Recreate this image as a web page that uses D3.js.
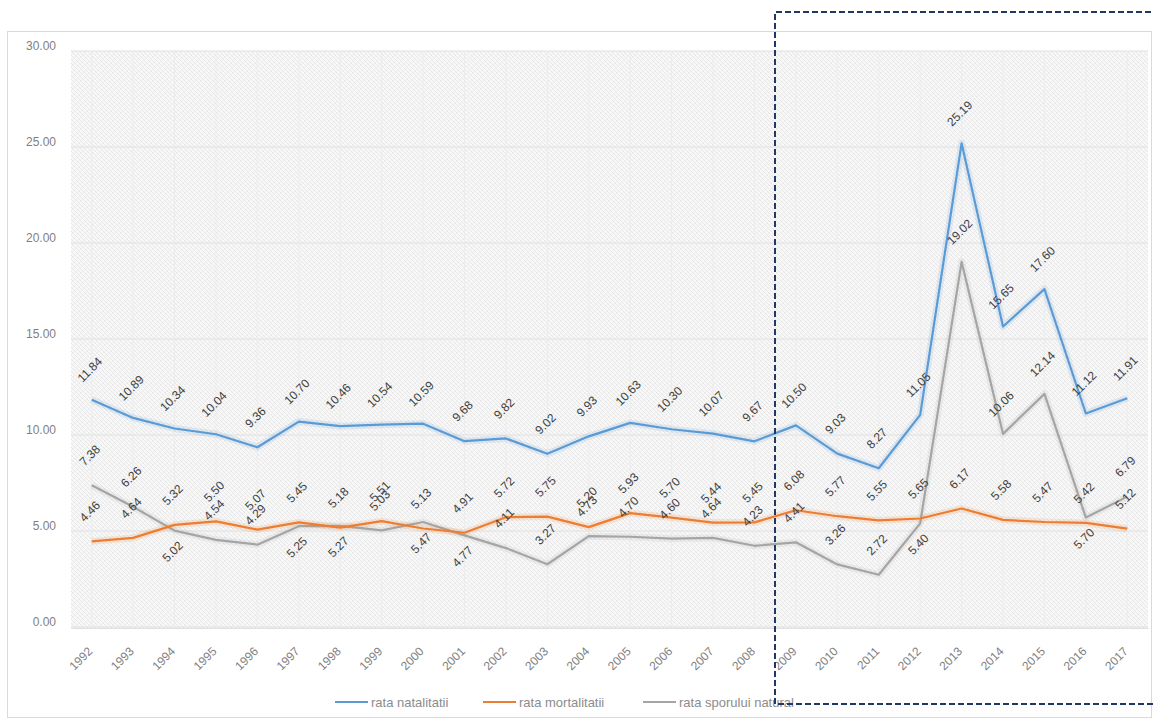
<!DOCTYPE html>
<html><head><meta charset="utf-8">
<script src="https://cdn.jsdelivr.net/npm/d3@7"></script>
<style>body{margin:0;background:#fff;}svg{display:block;font-family:"Liberation Sans",Arial,sans-serif;}</style>
</head><body>
<svg id="c" width="1154" height="721"></svg>
<script>
const years = ["1992","1993","1994","1995","1996","1997","1998","1999","2000","2001","2002","2003","2004","2005","2006","2007","2008","2009","2010","2011","2012","2013","2014","2015","2016","2017"];
const natalitatii = [11.84,10.89,10.34,10.04,9.36,10.70,10.46,10.54,10.59,9.68,9.82,9.02,9.93,10.63,10.30,10.07,9.67,10.50,9.03,8.27,11.05,25.19,15.65,17.60,11.12,11.91];
const mortalitatii = [4.46,4.64,5.32,5.50,5.07,5.45,5.18,5.51,5.13,4.91,5.72,5.75,5.20,5.93,5.70,5.44,5.45,6.08,5.77,5.55,5.65,6.17,5.58,5.47,5.42,5.12];
const sporul = [7.38,6.26,5.02,4.54,4.29,5.25,5.27,5.03,5.47,4.77,4.11,3.27,4.73,4.70,4.60,4.64,4.23,4.41,3.26,2.72,5.40,19.02,10.06,12.14,5.70,6.79];
// label side for the natural-growth series (1 = above, -1 = below)
const sporulLabelSide = [1,1,-1,1,1,-1,-1,1,-1,-1,1,1,1,1,1,1,1,1,1,1,-1,1,1,1,-1,1];
const yTicks = [0,5,10,15,20,25,30];
const seriesNames = ["rata natalitatii","rata mortalitatii","rata sporului natural"];
const seriesColors = ["#5b9bd5","#ed7d31","#a5a5a5"];

const svg = d3.select("#c");
const L=71, R=1148, T=51, B=627;
const x = d3.scalePoint().domain(years).range([L,R]).padding(0.5);
const y = d3.scaleLinear().domain([0,30]).range([B,T]);

// outer chart border
svg.append("rect").attr("x",7.5).attr("y",31.5).attr("width",1144).attr("height",686)
  .attr("fill","#fff").attr("stroke","#d9d9d9");

// hatch pattern
const defs = svg.append("defs");
const pat = defs.append("pattern").attr("id","hatch").attr("patternUnits","userSpaceOnUse")
  .attr("width",4).attr("height",4);
pat.append("rect").attr("width",4).attr("height",4).attr("fill","#f8f8f8");
pat.append("path").attr("d","M-1,-1 L5,5 M-1,3 L1,5 M3,-1 L5,1").attr("stroke","#e0e0e0").attr("stroke-width",0.7);
const pat2 = defs.append("pattern").attr("id","hatch2").attr("patternUnits","userSpaceOnUse")
  .attr("width",6).attr("height",6);
pat2.append("path").attr("d","M-1,7 L7,-1 M-1,1 L1,-1 M5,7 L7,5").attr("stroke","#eaeaea").attr("stroke-width",0.5);
svg.append("rect").attr("x",L).attr("y",T).attr("width",R-L).attr("height",B-T+1).attr("fill","url(#hatch)");
svg.append("rect").attr("x",L).attr("y",T).attr("width",R-L).attr("height",B-T+1).attr("fill","url(#hatch2)");

// gridlines
svg.append("g").selectAll("line").data(yTicks).join("line")
  .attr("x1",L).attr("x2",R).attr("y1",d=>y(d)).attr("y2",d=>y(d))
  .attr("stroke","#e0e0e0").attr("stroke-width",1);
svg.append("g").selectAll("line").data(years).join("line")
  .attr("x1",d=>x(d)).attr("x2",d=>x(d)).attr("y1",T).attr("y2",B)
  .attr("stroke","#ececec").attr("stroke-width",1);

// y axis
const yAxis = d3.axisLeft(y).tickValues(yTicks).tickFormat(d3.format(".2f")).tickSize(0).tickPadding(0);
const ga = svg.append("g").attr("transform",`translate(56,0)`).call(yAxis);
ga.select(".domain").remove();
ga.selectAll("text").attr("fill","#7f7f7f").attr("font-size","12px").attr("dy","-0.1em");

// x axis
const xAxis = d3.axisBottom(x).tickSize(0).tickPadding(0);
const gx = svg.append("g").attr("transform",`translate(0,${B+1})`).call(xAxis);
gx.select(".domain").attr("stroke","#e0e0e0");
gx.selectAll("text").attr("fill","#7f7f7f").attr("font-size","12px")
  .attr("text-anchor","end").attr("dy","0").attr("transform","translate(1,24) rotate(-45)");

// lines
const series = [natalitatii, mortalitatii, sporul];
const line = d3.line().x((d,i)=>x(years[i])).y(d=>y(d));
[2,1,0].forEach(k=>{
  svg.append("path").datum(series[k]).attr("d",line).attr("fill","none")
    .attr("stroke",seriesColors[k]).attr("stroke-opacity",0.15).attr("stroke-width",7).attr("stroke-linejoin","round");
  svg.append("path").datum(series[k]).attr("d",line).attr("fill","none")
    .attr("stroke",seriesColors[k]).attr("stroke-width",2.2).attr("stroke-linejoin","round");
});

// labels
function labels(vals, sides){
  svg.append("g").selectAll("text").data(vals).join("text")
    .attr("transform",(d,i)=>{
      const s = sides ? sides[i] : 1;
      const off = s>0 ? -30 : 21;
      return `translate(${x(years[i])-2},${y(d)+off}) rotate(-45)`;
    })
    .attr("text-anchor","middle").attr("dy","0.35em")
    .attr("font-size","12px").attr("fill","#404040")
    .text(d=>d3.format(".2f")(d));
}
labels(natalitatii,null);
labels(mortalitatii,null);
labels(sporul,sporulLabelSide);

// legend
const legX = [335,483,643];
const lg = svg.append("g");
seriesNames.forEach((n,i)=>{
  lg.append("line").attr("x1",legX[i]).attr("x2",legX[i]+33).attr("y1",702).attr("y2",702)
    .attr("stroke",seriesColors[i]).attr("stroke-width",2.2);
  lg.append("text").attr("x",legX[i]+36).attr("y",702).attr("dy","0.35em")
    .attr("font-size","13px").attr("fill","#8c8c8c").text(n);
});

// dashed annotation frame
svg.append("path").attr("d","M1160,12 L775,12 L775,704 L1160,704")
  .attr("fill","none").attr("stroke","#1f3864").attr("stroke-width",2).attr("stroke-dasharray","6,3");
</script>
</body></html>
